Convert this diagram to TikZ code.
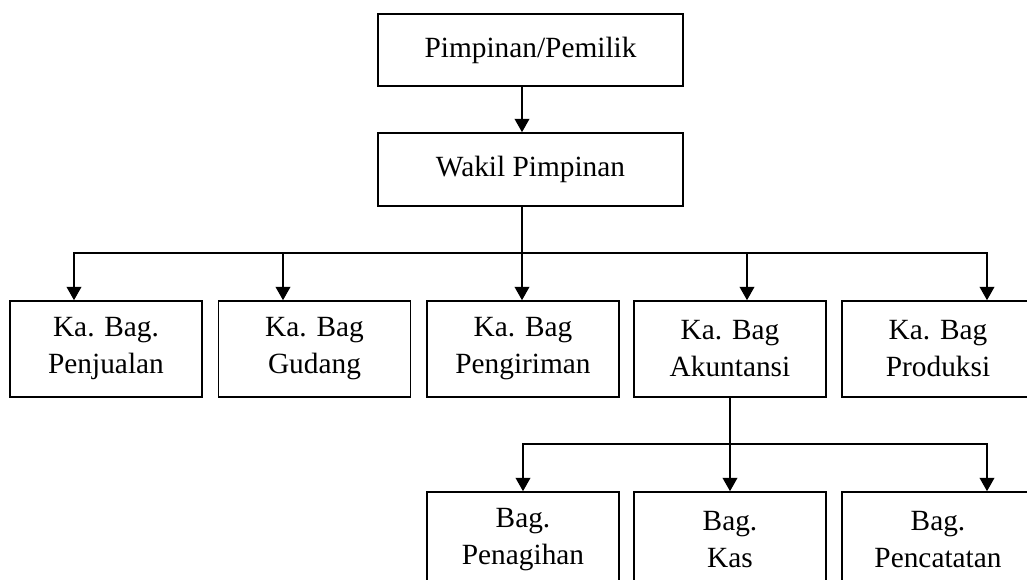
\documentclass[tikz,border=0pt]{standalone}
\usepackage{fontspec}
\setmainfont{Liberation Serif}
\usetikzlibrary{arrows.meta}
\begin{document}
\begin{tikzpicture}[x=0.75pt,y=-0.75pt,
  box/.style={draw, line width=1.2pt, rectangle, inner sep=0pt, align=center,
    font=\fontsize{22}{27.75}\selectfont, minimum width=144pt, minimum height=72pt},
  topbox/.style={box, minimum width=228.75pt, minimum height=54pt},
  conn/.style={line width=1.2pt},
  arr/.style={conn, -{Triangle[width=11pt,length=10pt]}}]
\useasboundingbox (0,0) rectangle (1027,580);
% top levels
\node[topbox] (top) at (530.5,50) {Pimpinan/Pemilik};
\node[topbox, minimum height=54.75pt] (wakil) at (530.5,169.5) {Wakil Pimpinan};
% first row
\node[box] (kb1) at (106,349) {Ka. Bag.\\Penjualan};
\node[box] (kb2) at (314.5,349) {Ka. Bag\\Gudang};
\node[box] (kb3) at (523,349) {Ka. Bag\\Pengiriman};
\node[box] (kb4) at (730,349) {Ka. Bag\\Akuntansi};
\node[box] (kb5) at (938,349) {Ka. Bag\\Produksi};
% second row
\node[box] (bg1) at (523,540) {Bag.\\Penagihan};
\node[box] (bg2) at (730,540) {Bag.\\Kas};
\node[box] (bg3) at (938,540) {Bag.\\Pencatatan};
% bus coordinates
\coordinate (w) at (522,253);
\coordinate (b1) at (74,253);
\coordinate (b2) at (283,253);
\coordinate (b4) at (747,253);
\coordinate (b5) at (987,253);
\coordinate (c) at (730,444);
\coordinate (c1) at (523,444);
\coordinate (c3) at (987,444);
% connectors
\draw[arr] (top.south -| w) -- (wakil.north -| w);
\draw[conn] (wakil.south -| w) -- (w);
\draw[arr] (w) -| (kb1.north -| b1);
\draw[arr] (w) -| (kb5.north -| b5);
\draw[arr] (b2) -- (kb2.north -| b2);
\draw[arr] (w) -- (kb3.north -| w);
\draw[arr] (b4) -- (kb4.north -| b4);
\draw[conn] (kb4.south) -- (c);
\draw[arr] (c) -| (bg1.north -| c1);
\draw[arr] (c) -| (bg3.north -| c3);
\draw[arr] (c) -- (bg2.north);
\end{tikzpicture}
\end{document}
